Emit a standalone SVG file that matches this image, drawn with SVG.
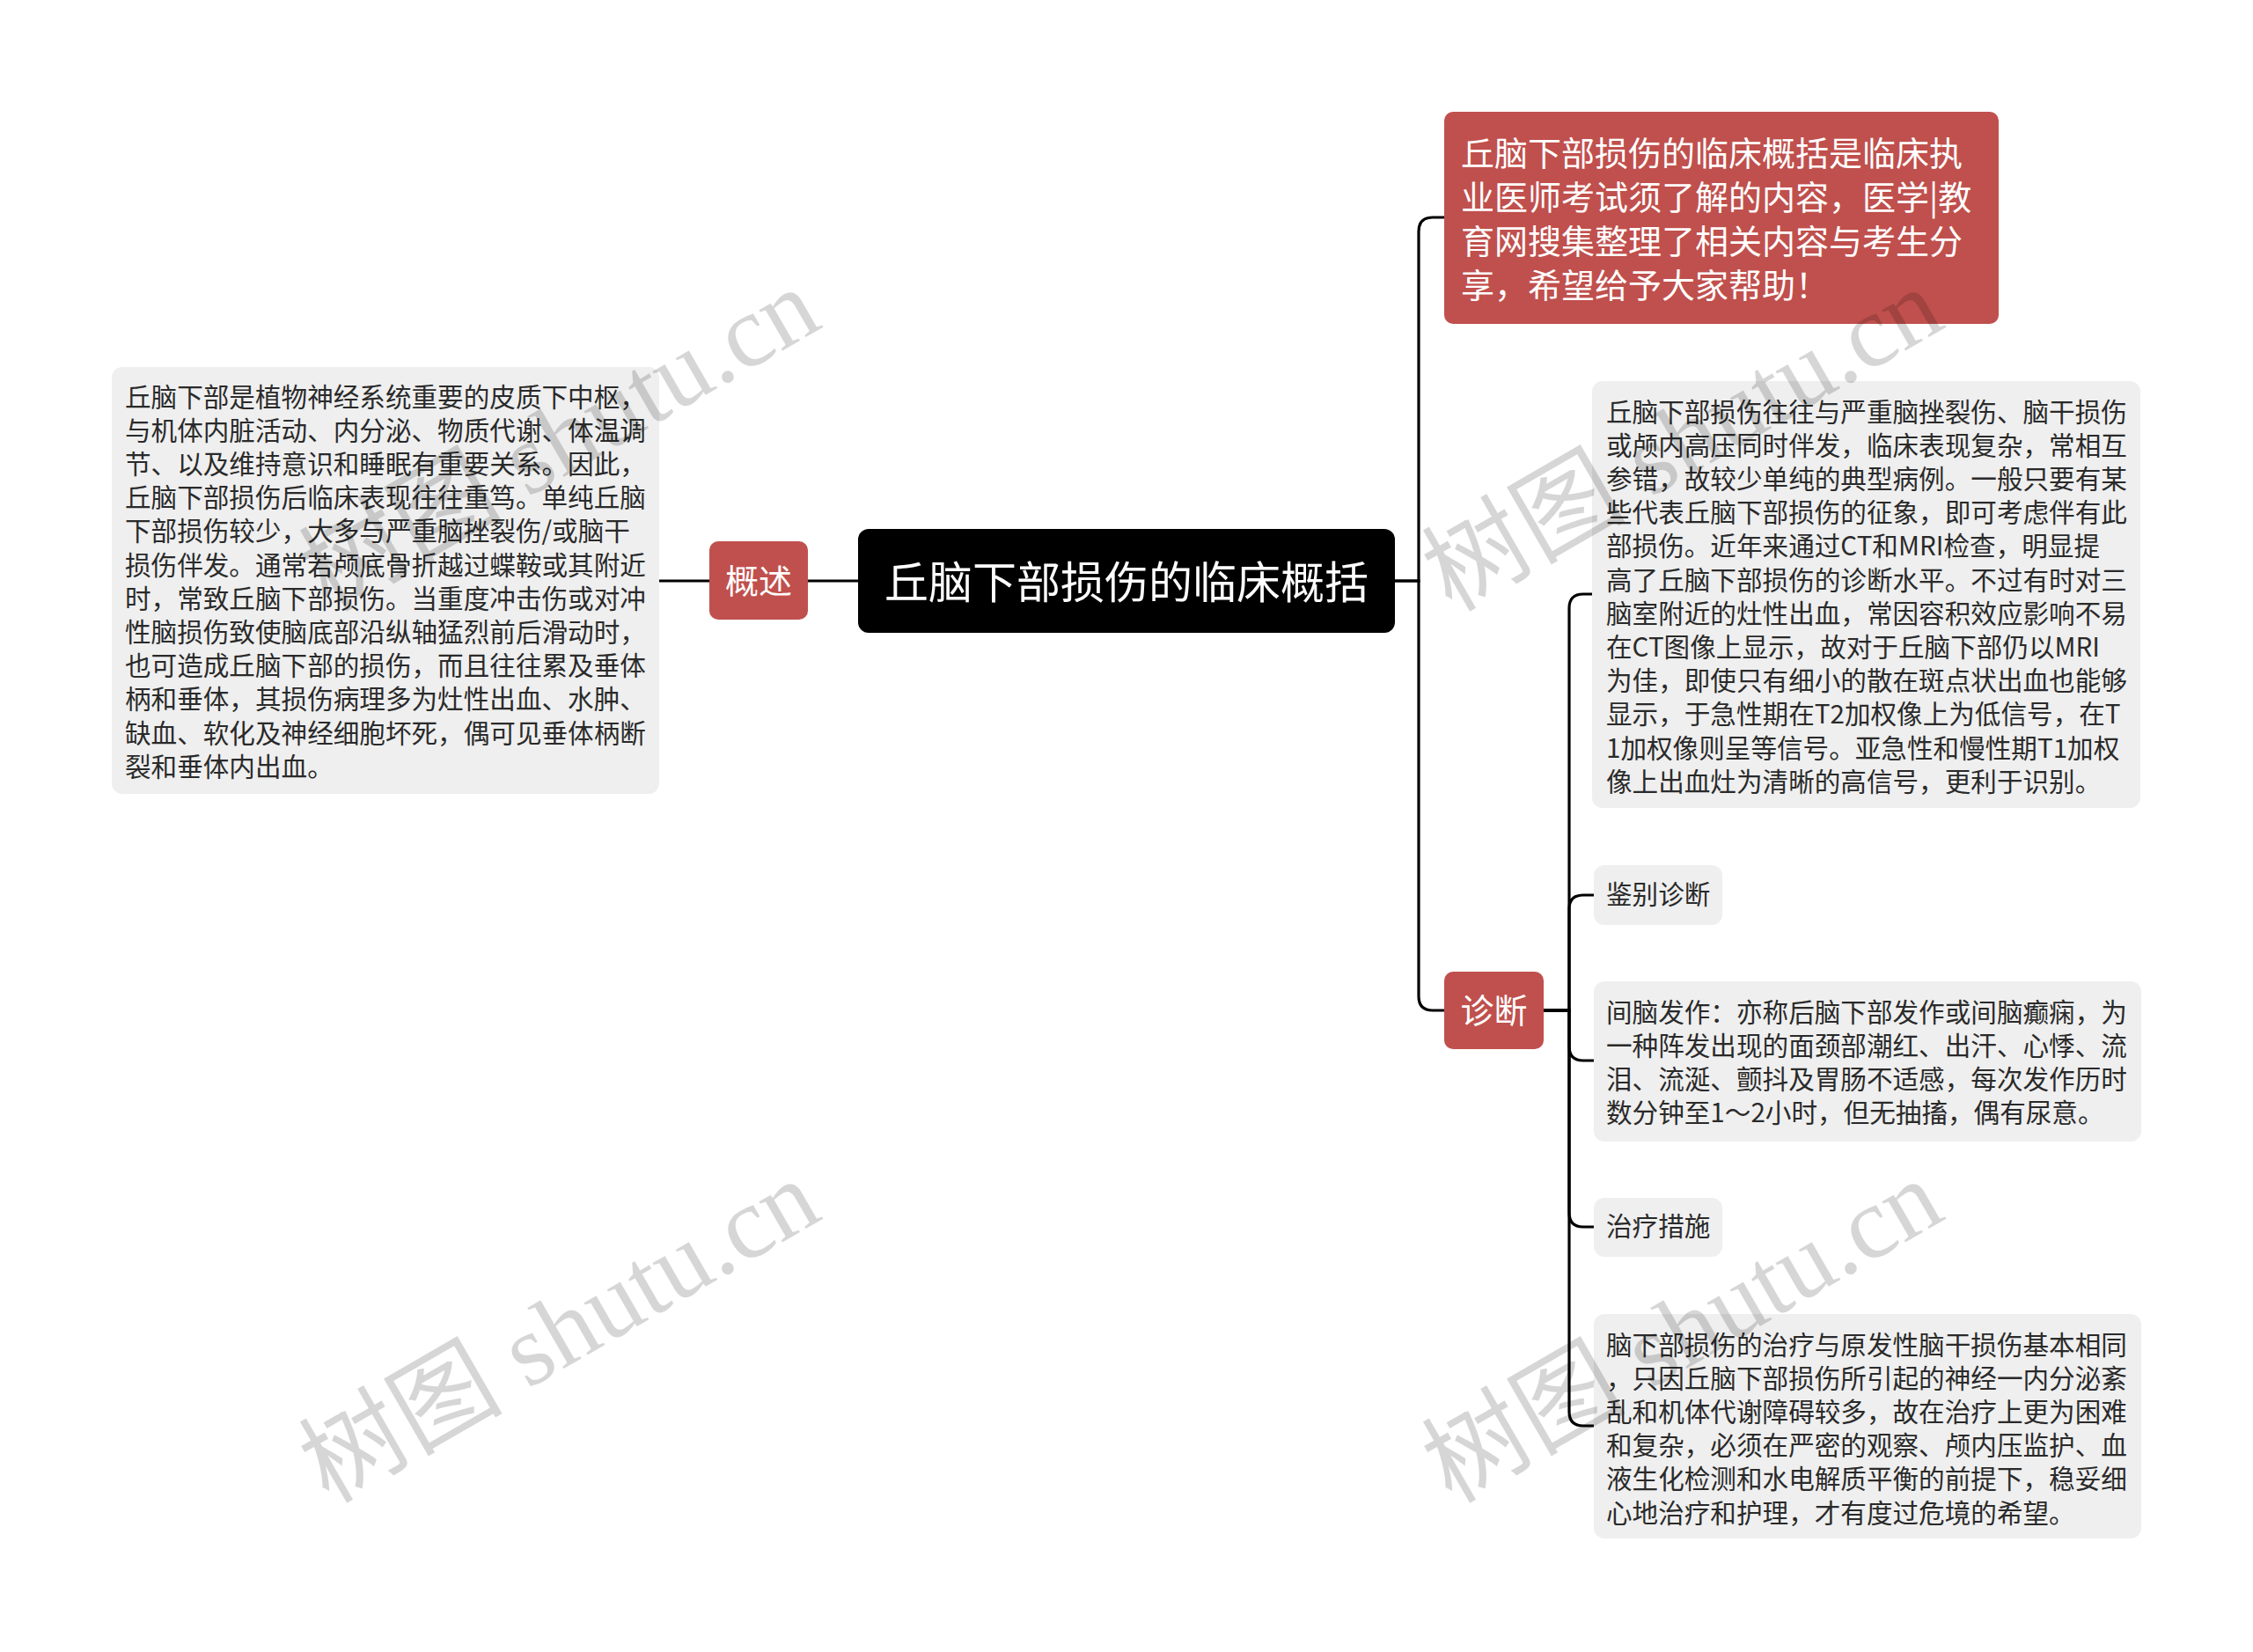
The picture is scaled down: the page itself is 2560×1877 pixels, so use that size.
<svg xmlns="http://www.w3.org/2000/svg" width="2560" height="1877" viewBox="0 0 2560 1877">
<style>
.bg{fill:#ffffff}
.gray{fill:#efefef}
.red{fill:#c0504d}
.root{fill:#000000}
.t{font-family:"Noto Sans CJK SC","Microsoft YaHei",sans-serif;font-size:29.6px;fill:#2a2a2a;dominant-baseline:central}
.tw{font-family:"Noto Sans CJK SC","Microsoft YaHei",sans-serif;font-size:38px;fill:#ffffff;dominant-baseline:central}
.tr{font-family:"Noto Sans CJK SC","Microsoft YaHei",sans-serif;font-size:50px;fill:#ffffff;dominant-baseline:central}
.ln{fill:none;stroke:#000000;stroke-width:3.2}
.wm{font-family:"Liberation Serif","Noto Sans CJK SC",serif;font-size:116px;fill:#000000;fill-opacity:0.16}
</style>
<rect class="bg" x="0" y="0" width="2560" height="1877"/>

<g id="connectors">
<path class="ln" d="M749 660 H806"/>
<path class="ln" d="M918 660 H975"/>
<path class="ln" d="M1584 660 H1612 V263 Q1612 247 1628 247 H1641"/>
<path class="ln" d="M1584 660 H1612 V1132 Q1612 1148 1628 1148 H1641"/>
<path class="ln" d="M1754 1148 H1783 V691 Q1783 675 1799 675 H1810"/>
<path class="ln" d="M1754 1148 H1783 V1033 Q1783 1017 1799 1017 H1811"/>
<path class="ln" d="M1754 1148 H1783 V1189 Q1783 1205 1799 1205 H1811"/>
<path class="ln" d="M1754 1148 H1783 V1378 Q1783 1394 1799 1394 H1811"/>
<path class="ln" d="M1754 1148 H1783 V1604 Q1783 1620 1799 1620 H1811"/>
</g>

<g id="root">
<rect class="root" x="975" y="601" width="610" height="118" rx="12"/>
<text class="tr" x="1280" y="658" text-anchor="middle">丘脑下部损伤的临床概括</text>
</g>

<g id="overview">
<rect class="red" x="806" y="615" width="112" height="89" rx="10"/>
<text class="tw" x="862" y="657" text-anchor="middle">概述</text>
</g>

<g id="overview-text">
<rect class="gray" x="127" y="417" width="622" height="485" rx="12"/>
<text class="t" x="142" y="449">丘脑下部是植物神经系统重要的皮质下中枢，</text>
<text class="t" x="142" y="487.2">与机体内脏活动、内分泌、物质代谢、体温调</text>
<text class="t" x="142" y="525.4">节、以及维持意识和睡眠有重要关系。因此，</text>
<text class="t" x="142" y="563.6">丘脑下部损伤后临床表现往往重笃。单纯丘脑</text>
<text class="t" x="142" y="601.8">下部损伤较少，大多与严重脑挫裂伤/或脑干</text>
<text class="t" x="142" y="640">损伤伴发。通常若颅底骨折越过蝶鞍或其附近</text>
<text class="t" x="142" y="678.2">时，常致丘脑下部损伤。当重度冲击伤或对冲</text>
<text class="t" x="142" y="716.4">性脑损伤致使脑底部沿纵轴猛烈前后滑动时，</text>
<text class="t" x="142" y="754.6">也可造成丘脑下部的损伤，而且往往累及垂体</text>
<text class="t" x="142" y="792.8">柄和垂体，其损伤病理多为灶性出血、水肿、</text>
<text class="t" x="142" y="831">缺血、软化及神经细胞坏死，偶可见垂体柄断</text>
<text class="t" x="142" y="869.2">裂和垂体内出血。</text>
</g>

<g id="intro">
<rect class="red" x="1641" y="127" width="630" height="241" rx="10"/>
<text class="tw" x="1660" y="171">丘脑下部损伤的临床概括是临床执</text>
<text class="tw" x="1660" y="221">业医师考试须了解的内容，医学|教</text>
<text class="tw" x="1660" y="271">育网搜集整理了相关内容与考生分</text>
<text class="tw" x="1660" y="321">享，希望给予大家帮助！</text>
</g>

<g id="diagnosis">
<rect class="red" x="1641" y="1104" width="113" height="88" rx="10"/>
<text class="tw" x="1697.5" y="1145" text-anchor="middle">诊断</text>
</g>

<g id="diag-text">
<rect class="gray" x="1809" y="433" width="623" height="485" rx="12"/>
<text class="t" x="1825" y="466">丘脑下部损伤往往与严重脑挫裂伤、脑干损伤</text>
<text class="t" x="1825" y="504.2">或颅内高压同时伴发，临床表现复杂，常相互</text>
<text class="t" x="1825" y="542.4">参错，故较少单纯的典型病例。一般只要有某</text>
<text class="t" x="1825" y="580.6">些代表丘脑下部损伤的征象，即可考虑伴有此</text>
<text class="t" x="1825" y="618.8">部损伤。近年来通过CT和MRI检查，明显提</text>
<text class="t" x="1825" y="657">高了丘脑下部损伤的诊断水平。不过有时对三</text>
<text class="t" x="1825" y="695.2">脑室附近的灶性出血，常因容积效应影响不易</text>
<text class="t" x="1825" y="733.4">在CT图像上显示，故对于丘脑下部仍以MRI</text>
<text class="t" x="1825" y="771.6">为佳，即使只有细小的散在斑点状出血也能够</text>
<text class="t" x="1825" y="809.8">显示，于急性期在T2加权像上为低信号，在T</text>
<text class="t" x="1825" y="848">1加权像则呈等信号。亚急性和慢性期T1加权</text>
<text class="t" x="1825" y="886.2">像上出血灶为清晰的高信号，更利于识别。</text>
</g>

<g id="differential">
<rect class="gray" x="1811" y="983" width="146" height="68" rx="12"/>
<text class="t" x="1825" y="1014">鉴别诊断</text>
</g>

<g id="seizure">
<rect class="gray" x="1811" y="1115" width="622" height="182" rx="12"/>
<text class="t" x="1825" y="1148">间脑发作：亦称后脑下部发作或间脑癫痫，为</text>
<text class="t" x="1825" y="1186.2">一种阵发出现的面颈部潮红、出汗、心悸、流</text>
<text class="t" x="1825" y="1224.4">泪、流涎、颤抖及胃肠不适感，每次发作历时</text>
<text class="t" x="1825" y="1262.6">数分钟至1～2小时，但无抽搐，偶有尿意。</text>
</g>

<g id="treatment">
<rect class="gray" x="1811" y="1361" width="146" height="67" rx="12"/>
<text class="t" x="1825" y="1391">治疗措施</text>
</g>

<g id="treatment-text">
<rect class="gray" x="1811" y="1493" width="622" height="255" rx="12"/>
<text class="t" x="1825" y="1526">脑下部损伤的治疗与原发性脑干损伤基本相同</text>
<text class="t" x="1825" y="1564.2">，只因丘脑下部损伤所引起的神经一内分泌紊</text>
<text class="t" x="1825" y="1602.4">乱和机体代谢障碍较多，故在治疗上更为困难</text>
<text class="t" x="1825" y="1640.6">和复杂，必须在严密的观察、颅内压监护、血</text>
<text class="t" x="1825" y="1678.8">液生化检测和水电解质平衡的前提下，稳妥细</text>
<text class="t" x="1825" y="1717">心地治疗和护理，才有度过危境的希望。</text>
</g>

<g id="watermarks">
<text class="wm" transform="translate(402 630) rotate(-30)" x="-58" y="43">树图 shutu.cn</text>
<text class="wm" transform="translate(1678 630) rotate(-30)" x="-58" y="43">树图 shutu.cn</text>
<text class="wm" transform="translate(402 1643) rotate(-30)" x="-58" y="43">树图 shutu.cn</text>
<text class="wm" transform="translate(1678 1643) rotate(-30)" x="-58" y="43">树图 shutu.cn</text>
</g>
</svg>
